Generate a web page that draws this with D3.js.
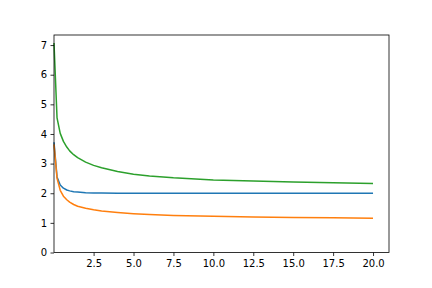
<!DOCTYPE html>
<html>
<head>
<meta charset="utf-8">
<script src="https://cdn.jsdelivr.net/npm/d3@7"></script>
<style>
  html, body { margin: 0; padding: 0; background: #fff; }
  svg { display: block; }
  .tick text { font-family: "DejaVu Sans", sans-serif; font-size: 10px; fill: #000; }
</style>
</head>
<body>
<div id="chart"></div>
<script>
"use strict";
// values
const xs = [0.02, 0.21, 0.41, 0.61, 0.82, 1.0, 1.25, 1.5, 2.0, 2.5, 3.0, 4.0, 5.0, 6.0, 7.5, 10, 12.5, 15, 17.5, 20];
const blue = [3.72, 2.55, 2.28, 2.17, 2.11, 2.08, 2.05, 2.04, 2.02, 2.01, 2.005, 2.0, 2.0, 2.0, 2.0, 2.0, 2.0, 2.0, 2.0, 2.0];
const orange = [3.65, 2.50, 2.10, 1.90, 1.78, 1.70, 1.62, 1.56, 1.49, 1.44, 1.40, 1.35, 1.31, 1.28, 1.25, 1.22, 1.20, 1.18, 1.17, 1.16];
const green = [7.07, 4.54, 4.02, 3.75, 3.56, 3.43, 3.30, 3.20, 3.05, 2.94, 2.86, 2.73, 2.64, 2.58, 2.52, 2.45, 2.41, 2.38, 2.35, 2.33];
const series = [
  { name: 'a', values: blue, color: '#1f77b4' },
  { name: 'b', values: orange, color: '#ff7f0e' },
  { name: 'c', values: green, color: '#2ca02c' },
];
const xTicks = [2.5, 5, 7.5, 10, 12.5, 15, 17.5, 20];
const yTicks = [0, 1, 2, 3, 4, 5, 6, 7];

const W = 432, H = 288;
const m = { left: 54, right: 43, top: 35, bottom: 35.5 };

const svg = d3.select('#chart').append('svg').attr('width', W).attr('height', H);
const x = d3.scaleLinear().domain([0.02, 21.0]).range([m.left, W - m.right]);
const y = d3.scaleLinear().domain([0, 7.34]).range([H - m.bottom, m.top]);

const line = d3.line().x((d, i) => x(xs[i])).y((d) => y(d));
svg.append('g').selectAll('path').data(series).enter().append('path')
  .attr('d', (s) => line(s.values))
  .attr('fill', 'none').attr('stroke', (s) => s.color).attr('stroke-width', 1.5)
  .attr('stroke-linejoin', 'round').attr('stroke-linecap', 'butt');

const xAxis = svg.append('g').attr('transform', 'translate(0,' + (H - m.bottom) + ')')
  .call(d3.axisBottom(x).tickValues(xTicks).tickFormat(d3.format('.1f')).tickSize(3.5).tickPadding(3.5));
const yAxis = svg.append('g').attr('transform', 'translate(' + m.left + ',0)')
  .call(d3.axisLeft(y).tickValues(yTicks).tickFormat(d3.format('d')).tickSize(3.5).tickPadding(3.5));
[xAxis, yAxis].forEach((a) => {
  a.select('.domain').remove();
  a.selectAll('.tick line').attr('stroke', '#000').attr('stroke-width', 0.8);
});

// frame
svg.append('rect')
  .attr('x', m.left).attr('y', m.top)
  .attr('width', W - m.left - m.right).attr('height', H - m.top - m.bottom)
  .attr('fill', 'none').attr('stroke', '#000').attr('stroke-width', 0.8);
</script>
</body>
</html>
